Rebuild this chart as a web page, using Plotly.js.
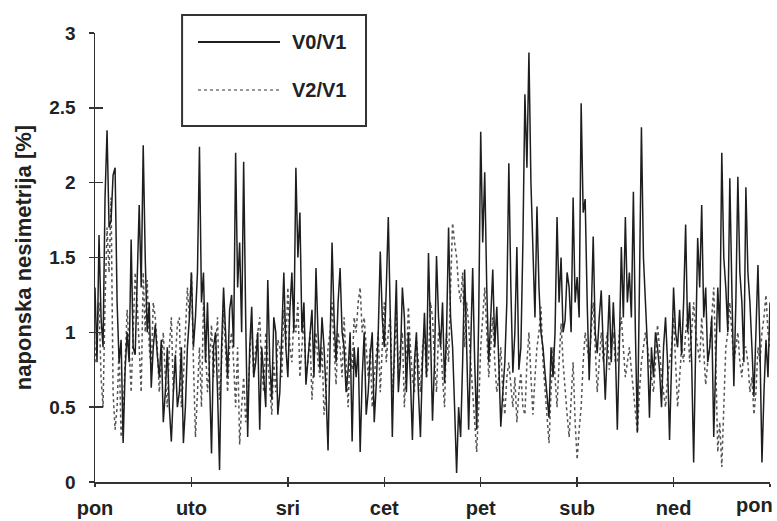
<!DOCTYPE html>
<html><head><meta charset="utf-8">
<script src="https://cdn.plot.ly/plotly-3.0.1.min.js"></script>
<style>html,body{margin:0;padding:0;background:#fff}</style>
</head><body>
<div id="chart" style="width:777px;height:521px"></div>
<script>
// weekdays (tick labels) and their positions in days
const dayLabels = ['pon','uto','sri','cet','pet','sub','ned','pon'];
const dayTicks = [0,1,2,3,4,5,6,7];
const yTicks = [0,0.5,1,1.5,2,2.5,3];
const samplesPerDay = 48; // half-hourly readings over one week

// V0/V1 [%] (solid)
const v0v1 = [
 1.3,0.8,1.65,1.1,0.9,1.9,2.35,1.7,1.75,2.05,2.1,1.2,0.8,0.95,0.26,0.75,1.0,0.8,1.62,0.9,0.85,1.4,1.85,1.3,
 2.25,1.5,1.0,1.2,0.63,0.9,1.05,0.85,0.7,0.95,0.4,0.6,0.9,0.5,0.27,0.6,0.85,0.5,0.6,0.9,0.26,0.5,0.9,1.1,
 1.4,0.9,1.1,1.4,2.24,1.2,1.4,0.8,1.2,0.7,0.19,0.9,1.0,0.6,0.08,0.9,1.3,1.0,0.7,1.15,1.25,0.9,2.2,1.3,
 1.6,1.0,2.14,1.1,0.3,0.9,1.17,0.7,0.8,1.0,0.35,0.9,0.7,0.5,1.35,0.8,0.55,1.1,1.0,0.45,0.6,1.0,1.4,0.9,
 0.7,1.15,1.4,1.0,2.1,1.5,1.8,1.0,1.2,0.65,0.8,1.0,1.15,0.7,1.43,1.0,0.75,1.1,0.9,0.6,0.21,0.9,1.6,1.1,
 0.8,1.2,1.43,1.0,0.9,0.6,0.75,1.0,0.27,0.9,0.7,0.9,0.2,0.7,1.0,0.45,0.6,0.85,1.0,0.4,0.65,1.0,1.54,1.1,
 0.9,1.3,1.77,1.1,0.3,0.9,1.35,0.6,0.8,1.3,1.1,0.6,1.0,0.7,0.28,0.8,1.0,0.6,0.3,0.8,1.13,0.7,1.53,1.0,
 0.41,0.8,1.51,1.1,0.9,1.2,0.66,1.0,1.7,1.1,0.9,0.5,0.06,0.5,0.3,0.8,1.42,0.9,0.35,0.9,1.43,0.8,0.35,1.1,
 2.34,1.6,2.07,1.3,0.8,1.1,1.42,0.9,1.17,0.8,0.37,0.6,0.8,1.2,2.13,1.3,0.73,1.0,1.57,0.75,0.9,1.6,2.59,2.1,
 2.87,2.0,1.5,1.1,1.84,1.3,1.0,0.9,0.73,0.55,0.43,0.9,0.7,1.0,1.77,1.2,1.5,1.0,1.08,1.4,1.3,1.0,1.9,1.2,
 1.37,1.1,2.53,1.8,1.89,1.2,0.68,1.1,1.64,1.0,0.86,1.1,1.28,0.9,0.55,0.9,1.25,0.8,1.2,0.9,0.35,0.9,1.57,1.1,
 1.77,1.2,1.4,1.1,1.94,1.0,0.33,1.3,2.37,1.5,1.17,0.9,0.43,0.9,0.7,1.0,0.9,0.75,0.5,0.9,1.1,0.8,0.28,0.8,
 1.3,1.0,0.9,1.15,0.85,1.2,1.72,1.0,1.2,0.8,0.13,0.9,1.63,1.3,1.85,1.1,1.3,0.8,0.9,1.1,0.3,0.8,1.3,1.0,
 2.2,1.5,1.3,1.0,2.03,1.3,0.64,1.2,2.04,1.4,1.2,0.8,1.97,1.4,1.2,0.9,0.57,1.0,1.45,0.9,0.13,0.6,0.95,0.7,
 1.2
];
// V2/V1 [%] (dotted)
const v2v1 = [
 0.8,1.0,1.2,0.7,0.5,1.2,1.7,1.4,1.9,0.6,0.35,0.5,0.9,0.3,0.45,0.8,1.15,0.9,0.6,1.0,1.4,1.2,0.9,0.6,
 1.4,1.0,1.35,0.9,0.75,1.2,1.1,0.9,0.6,0.8,1.0,0.7,0.5,0.9,1.1,0.6,0.8,1.05,1.1,0.5,0.7,1.0,1.3,1.1,
 1.4,0.8,0.3,0.6,0.9,0.5,1.2,0.9,0.6,0.8,1.05,0.7,0.9,1.1,0.55,0.8,1.15,0.85,0.6,0.9,1.0,0.8,0.5,0.9,
 0.25,0.5,0.7,0.4,0.55,0.8,1.05,0.7,0.9,1.0,1.1,0.75,0.6,1.0,0.8,0.6,0.45,0.8,0.6,0.95,0.9,0.7,1.15,0.9,
 1.3,0.9,0.8,1.1,1.0,1.2,0.7,0.9,1.1,0.7,0.8,1.0,0.55,0.8,1.0,0.8,0.7,0.9,0.45,0.6,0.9,1.0,1.2,0.9,
 0.65,1.0,0.9,0.7,1.1,0.8,0.5,0.9,0.75,1.1,1.0,1.2,1.3,1.0,1.1,0.9,0.7,0.9,0.5,0.7,0.85,1.0,0.6,0.9,
 1.2,0.8,1.0,1.1,0.6,0.8,1.15,0.7,0.9,1.0,0.5,0.8,1.17,0.9,0.7,0.6,0.95,0.8,0.6,0.9,1.0,0.7,0.8,1.2,
 1.1,0.8,0.6,1.0,0.95,0.7,0.5,1.0,0.8,1.3,1.73,1.6,1.5,1.3,1.2,1.4,0.9,1.2,1.05,0.8,0.6,0.4,0.2,0.5,
 0.9,1.1,1.3,1.0,0.7,0.9,1.1,0.8,0.6,0.7,0.9,0.6,0.45,0.7,0.8,0.65,0.5,0.7,0.4,0.6,0.73,0.5,0.45,0.8,
 1.0,0.7,0.45,0.7,0.9,1.0,1.17,0.8,0.6,0.4,0.26,0.6,0.9,0.7,0.5,0.8,1.06,0.8,0.6,0.45,0.3,0.6,0.8,0.4,
 0.15,0.35,0.5,0.8,1.0,0.9,0.8,1.0,1.2,0.9,0.6,0.8,1.0,0.8,0.9,1.0,0.75,0.9,1.0,0.8,0.8,1.0,1.1,0.9,
 0.7,0.8,0.9,0.75,0.6,0.5,0.33,0.6,0.8,0.9,1.0,0.9,0.8,0.7,0.6,0.8,1.05,0.9,0.7,0.6,0.5,0.7,0.8,0.9,
 1.1,0.8,0.5,0.7,0.9,0.8,1.0,1.1,0.8,1.0,1.2,1.0,0.9,0.8,1.1,0.9,0.65,0.8,0.9,1.1,1.3,0.8,0.2,0.4,
 0.1,0.5,0.9,1.0,1.2,1.0,0.8,0.9,1.0,0.8,0.7,0.9,0.9,0.8,0.6,0.7,0.45,0.6,0.9,0.8,1.0,1.1,1.25,1.0,
 0.9
];

const xs = v0v1.map((_, i) => i / samplesPerDay);

const txt = '#222';
const fontBase = {family: 'Liberation Sans, Arial, sans-serif', color: txt};
const tickFontX = Object.assign({size: 20, weight: 'bold'}, fontBase);

const traces = [
  {x: xs, y: v2v1, type: 'scatter', mode: 'lines', name: 'V2/V1',
   line: {color: '#555', width: 1.5, dash: 'dot'}, showlegend: false},
  {x: xs, y: v0v1, type: 'scatter', mode: 'lines', name: 'V0/V1',
   line: {color: '#1e1e1e', width: 1.5}, showlegend: false},
  {x: [null], y: [null], xaxis: 'x2', yaxis: 'y2', type: 'scatter', mode: 'lines',
   showlegend: false, hoverinfo: 'skip'}
];

// legend geometry in paper coordinates
const lgX0 = 0.129, lgX1 = 0.4015, lgY0 = 0.793, lgY1 = 1.04;
const smpX0 = 0.1526, smpX1 = 0.2741, row1 = 0.980, row2 = 0.873, txtX = 0.2889;

// the last weekday label sits left of its tick (it would overflow the page)
const shownTickText = dayLabels.slice(0, 7).concat(['']);

const layout = {
  width: 777, height: 521,
  margin: {l: 95, r: 7, t: 33, b: 39},
  paper_bgcolor: '#fff', plot_bgcolor: '#fff',
  showlegend: false,
  xaxis: {
    range: [0, 7], tickvals: dayTicks, ticktext: shownTickText,
    showgrid: false, zeroline: false, showline: true, linecolor: '#333', linewidth: 2,
    ticks: 'outside', ticklen: 3, tickcolor: '#333', tickwidth: 1.5,
    ticklabelstandoff: 4,
    tickfont: tickFontX
  },
  yaxis: {
    range: [0, 3], tickvals: yTicks,
    showgrid: false, zeroline: false, showline: true, linecolor: '#333', linewidth: 1.5,
    ticks: 'outside', ticklen: 5, tickcolor: '#333', tickwidth: 1.5,
    ticklabelstandoff: 9,
    tickfont: Object.assign({size: 19, weight: 'bold'}, fontBase),
    title: {text: 'naponska nesimetrija [%]', standoff: 11,
            font: Object.assign({size: 22, weight: 'bold'}, fontBase)}
  },
  xaxis2: {overlaying: 'x', range: [0, 7], tickvals: dayTicks, showticklabels: false,
    showgrid: false, zeroline: false, showline: false, ticks: 'inside', ticklen: 5,
    tickcolor: '#333', tickwidth: 1.5, anchor: 'y2'},
  yaxis2: {overlaying: 'y', range: [0, 3], tickvals: yTicks, showticklabels: false,
    showgrid: false, zeroline: false, showline: false, ticks: 'inside', ticklen: 8,
    tickcolor: '#333', tickwidth: 1.5, anchor: 'x2'},
  shapes: [
    {type: 'rect', xref: 'paper', yref: 'paper', x0: lgX0, x1: lgX1, y0: lgY0, y1: lgY1,
     line: {color: '#333', width: 2}, fillcolor: '#fff'},
    {type: 'line', xref: 'paper', yref: 'paper', x0: smpX0, x1: smpX1, y0: row1, y1: row1,
     line: {color: '#1e1e1e', width: 2}},
    {type: 'line', xref: 'paper', yref: 'paper', x0: smpX0, x1: smpX1, y0: row2, y1: row2,
     line: {color: '#777', width: 1.5, dash: 'dot'}}
  ],
  annotations: [
    {xref: 'paper', yref: 'paper', x: txtX, y: row1, xanchor: 'left', yanchor: 'middle',
     text: 'V0/V1', showarrow: false, font: Object.assign({size: 20, weight: 'bold'}, fontBase)},
    {xref: 'paper', yref: 'paper', x: txtX, y: row2, xanchor: 'left', yanchor: 'middle',
     text: 'V2/V1', showarrow: false, font: Object.assign({size: 20, weight: 'bold'}, fontBase)},
    {xref: 'x', yref: 'paper', x: dayTicks[7], y: 0, xanchor: 'right', yanchor: 'top',
     xshift: 5, yshift: -10, text: dayLabels[7], showarrow: false, font: tickFontX}
  ]
};

Plotly.newPlot('chart', traces, layout, {displayModeBar: false, staticPlot: true});
</script>
</body></html>
